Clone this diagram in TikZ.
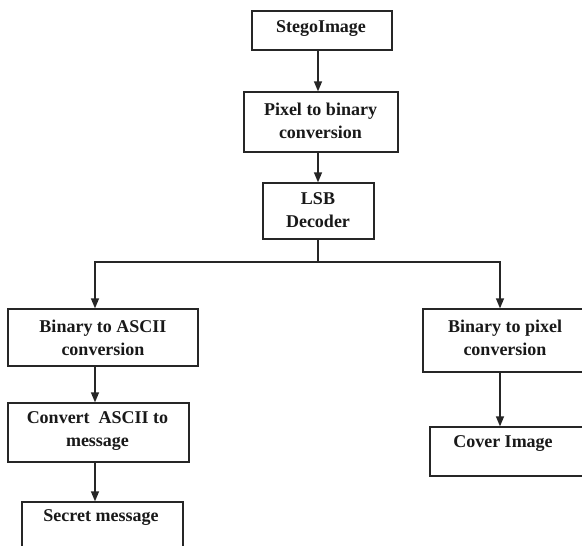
\documentclass[tikz,border=0pt]{standalone}
\usepackage{fontspec}
\setmainfont{Liberation Serif}
\usetikzlibrary{arrows.meta}
\begin{document}
\begin{tikzpicture}[x=1pt,y=-1pt,
  box/.style={draw=black!85, line width=1.3pt, rectangle, inner sep=0pt},
  txt/.style={font=\fontsize{18}{23}\selectfont\bfseries, text=black!90, align=center, inner sep=0pt},
  arr/.style={draw=black!85, line width=1.3pt, -{Triangle[length=10pt,width=8pt]}},
  wire/.style={draw=black!85, line width=1.3pt}]
\useasboundingbox (0,0) rectangle (582,546);
\clip (0,0) rectangle (582,546);
\fill[white] (0,0) rectangle (582,546);

% flow columns
\coordinate (mcol) at (318,0);
\coordinate (lcol) at (95,0);
\coordinate (rcol) at (500,0);

% boxes
\node[box, minimum width=140pt, minimum height=39pt] (stego) at (322,30.5) {};
\node[box, minimum width=154pt, minimum height=60pt] (pix) at (321,122) {};
\node[box, minimum width=111pt, minimum height=56pt] (lsb) at (318.5,211) {};
\node[box, minimum width=190pt, minimum height=57pt] (b2a) at (103,337.5) {};
\node[box, minimum width=181pt, minimum height=59pt] (conv) at (98.5,432.5) {};
\node[box, minimum width=161pt, minimum height=60pt] (secret) at (102.5,532) {};
\node[box, minimum width=167pt, minimum height=63pt] (b2p) at (506.5,340.5) {};
\node[box, minimum width=160pt, minimum height=49pt] (cover) at (510,451.5) {};

% labels
\node[txt] (tstego) at (321,29) {StegoImage};
\node[txt] (tpix) at (320.5,121) {Pixel to binary\\conversion};
\node[txt] (tlsb) at (318,210) {LSB\\Decoder};
\node[txt] (tb2a) at (103,338) {Binary to ASCII\\conversion};
\node[txt] (tconv) at (97.5,431.5) {Convert\ \ ASCII to\\message};
\node[txt] (tsecret) at (101,518) {Secret message};
\node[txt] (tb2p) at (505,337.5) {Binary to pixel\\conversion};
\node[txt] (tcover) at (503,444) {Cover Image};

% connectors
\draw[arr] (stego.south -| mcol) -- (pix.north -| mcol);
\draw[arr] (pix.south -| mcol) -- (lsb.north -| mcol);
\coordinate (split) at (318,262);
\draw[wire] (lsb.south -| mcol) -- (split);
\draw[arr] (split) -| (b2a.north -| lcol);
\draw[arr] (split) -| (b2p.north -| rcol);
\draw[arr] (b2a.south -| lcol) -- (conv.north -| lcol);
\draw[arr] (conv.south -| lcol) -- (secret.north -| lcol);
\draw[arr] (b2p.south -| rcol) -- (cover.north -| rcol);
\end{tikzpicture}
\end{document}
